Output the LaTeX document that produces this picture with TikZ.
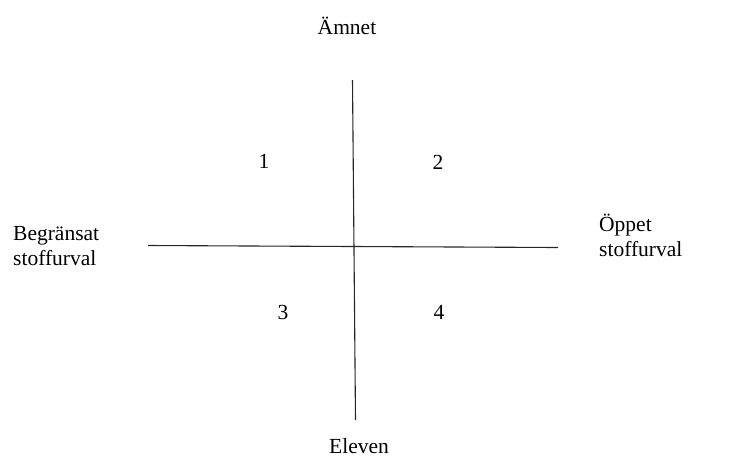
\documentclass[tikz,border=0pt]{standalone}
\usepackage{fontspec}
\setmainfont{Liberation Serif}
\begin{document}
\begin{tikzpicture}[x=1pt,y=-1pt,
  lbl/.style={inner sep=0pt,font=\fontsize{21.5}{25}\selectfont},
  axis/.style={line width=1.1pt,black!85}]
\useasboundingbox (0,0) rectangle (734,459);
\coordinate (vt) at (352.5,80);
\coordinate (vb) at (355.5,420);
\coordinate (hl) at (148,245.5);
\coordinate (hr) at (558,247.5);
\draw[axis] (vt) -- (vb);
\draw[axis] (hl) -- (hr);
\node[lbl,anchor=base] (amnet) at (347,34) {Ämnet};
\node[lbl,anchor=base] (eleven) at (359,453) {Eleven};
\node[lbl,anchor=base west,align=left] (begr) at (13,265) {Begränsat\\stoffurval};
\node[lbl,anchor=base west,align=left] (oppet) at (599,256) {Öppet\\stoffurval};
\node[lbl,anchor=base] (q1) at (264,168) {1};
\node[lbl,anchor=base] (q2) at (438,169) {2};
\node[lbl,anchor=base] (q3) at (283,319) {3};
\node[lbl,anchor=base] (q4) at (439,319) {4};
\end{tikzpicture}
\end{document}
